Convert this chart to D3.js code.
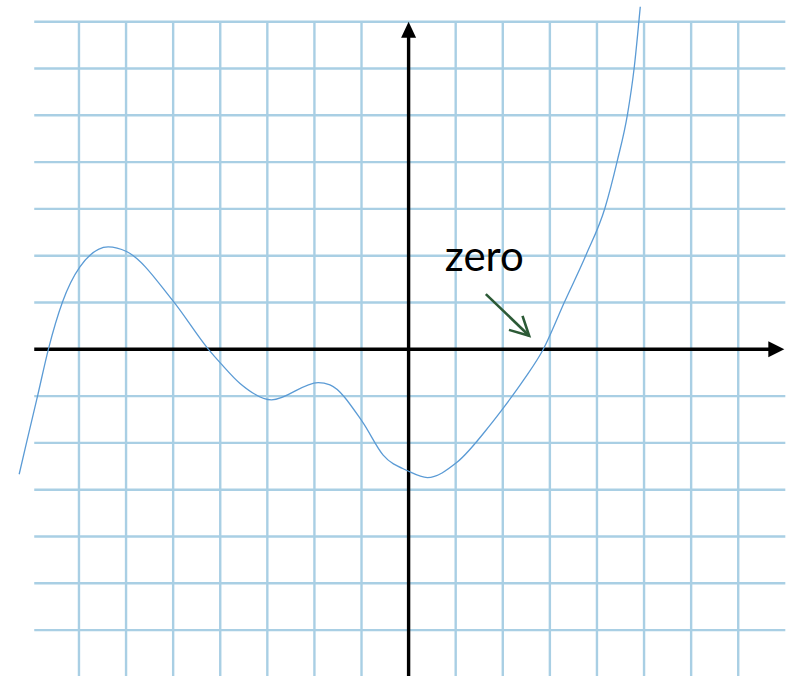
<!DOCTYPE html>
<html>
<head>
<meta charset="utf-8">
<script src="https://cdn.jsdelivr.net/npm/d3@7"></script>
<style>
  html, body { margin: 0; padding: 0; background: #fff; }
  svg { display: block; }
</style>
</head>
<body>
<svg id="chart" width="800" height="676"></svg>
<script>
// Grid positions (in grid units)
const gridXs = [-7, -6, -5, -4, -3, -2, -1, 1, 2, 3, 4, 5, 6, 7];
const gridYs = [7, 6, 5, 4, 3, 2, 1, -1, -2, -3, -4, -5, -6];

// Sketched polynomial curve, sampled points (grid units)
const curveX = [-8.27, -8.11, -7.88, -7.65, -7.35, -6.98, -6.38, -5.99, -5.00, -4.25, -3.99, -3.58, -2.91, -1.92, -1.67, -0.98, -0.54, -0.01, 0.40, 1.02, 1.73, 2.03, 2.44, 2.86, 3.31, 3.77, 4.17, 4.43, 4.65, 4.79, 4.92];
const curveY = [-2.67, -1.98, -1.00, 0, 1.01, 1.76, 2.19, 2.09, 1.03, 0, -0.30, -0.73, -1.08, -0.71, -0.76, -1.55, -2.26, -2.60, -2.74, -2.42, -1.62, -1.23, -0.66, 0, 1.01, 2.02, 3.02, 4.02, 5.03, 6.01, 7.32];

// Annotation pointing at the positive root
const labelText = ["zero"];
const labelAt = [0.77, 1.68];
const pointerFrom = [1.64, 1.18];
const pointerTo = [2.56, 0.29];

const svg = d3.select("#chart");
const unitX = 47.09, unitY = 46.8;
const originX = 408.6, originY = 349.3;

const x = d3.scaleLinear().domain([-8, 8]).range([originX - 8 * unitX, originX + 8 * unitX]);
const y = d3.scaleLinear().domain([-7, 7]).range([originY + 7 * unitY, originY - 7 * unitY]);

const xMin = -7.95, xMax = 8.0;
const yTop = 7, yBottom = -7.1;

const gridColor = "#a9cfe4";

// Grid
const grid = svg.append("g");
grid.selectAll("line.v").data(gridXs).join("line")
  .attr("x1", d => x(d)).attr("x2", d => x(d))
  .attr("y1", y(yTop)).attr("y2", y(yBottom))
  .attr("stroke", gridColor).attr("stroke-width", 2.4);
grid.selectAll("line.h").data(gridYs).join("line")
  .attr("y1", d => y(d)).attr("y2", d => y(d))
  .attr("x1", x(xMin)).attr("x2", x(xMax))
  .attr("stroke", gridColor).attr("stroke-width", 2.4);

// Axes with arrowheads
const axisW = 3.4;
svg.append("line")
  .attr("x1", x(xMin)).attr("x2", x(xMax) - 14)
  .attr("y1", y(0)).attr("y2", y(0))
  .attr("stroke", "#000").attr("stroke-width", axisW);
svg.append("path")
  .attr("d", `M${x(xMax) - 1},${y(0)} L${x(xMax) - 17},${y(0) - 8} L${x(xMax) - 17},${y(0) + 8} Z`)
  .attr("fill", "#000");

svg.append("line")
  .attr("x1", x(0)).attr("x2", x(0))
  .attr("y1", y(yBottom)).attr("y2", y(yTop) + 14)
  .attr("stroke", "#000").attr("stroke-width", axisW);
svg.append("path")
  .attr("d", `M${x(0)},${y(yTop)} L${x(0) - 7.5},${y(yTop) + 16} L${x(0) + 7.5},${y(yTop) + 16} Z`)
  .attr("fill", "#000");

// Curve (monotone cubic through the sampled points)
const pts = curveX.map((v, i) => [v, curveY[i]]);
const line = d3.line()
  .x(d => x(d[0])).y(d => y(d[1]))
  .curve(d3.curveMonotoneX);
svg.append("path")
  .datum(pts)
  .attr("d", line)
  .attr("fill", "none")
  .attr("stroke", "#5b9bd5")
  .attr("stroke-width", 1.3);

// Label
svg.append("text")
  .attr("x", x(labelAt[0])).attr("y", y(labelAt[1]))
  .attr("font-family", "Lato, 'Open Sans', sans-serif")
  .attr("font-size", 42)
  .attr("fill", "#000")
  .text(labelText[0]);

// Pointer arrow (open head)
const green = "#2c5a36";
const fx = x(pointerFrom[0]), fy = y(pointerFrom[1]);
const tx = x(pointerTo[0]), ty = y(pointerTo[1]);
const ang = Math.atan2(ty - fy, tx - fx);
const headLen = 21, spread = Math.PI / 6.5;
const a1 = [tx - headLen * Math.cos(ang - spread), ty - headLen * Math.sin(ang - spread)];
const a2 = [tx - headLen * Math.cos(ang + spread), ty - headLen * Math.sin(ang + spread)];
svg.append("line")
  .attr("x1", fx).attr("y1", fy).attr("x2", tx).attr("y2", ty)
  .attr("stroke", green).attr("stroke-width", 2.6);
svg.append("path")
  .attr("d", `M${a1[0]},${a1[1]} L${tx},${ty} L${a2[0]},${a2[1]}`)
  .attr("fill", "none").attr("stroke", green).attr("stroke-width", 2.6)
  .attr("stroke-linejoin", "miter");
</script>
</body>
</html>
